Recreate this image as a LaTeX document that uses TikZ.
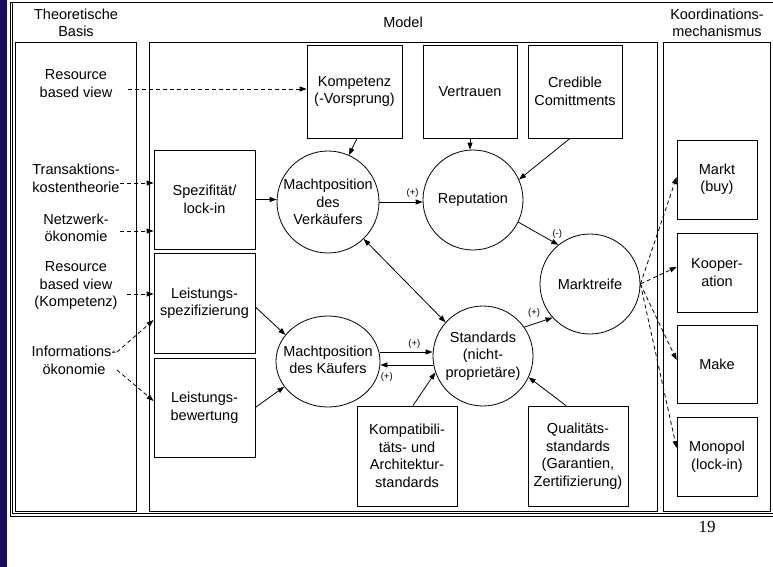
\documentclass[tikz,border=0pt]{standalone}
\usepackage{fontspec}
\setmainfont{Liberation Sans}
\newfontfamily\pagenumfont{Liberation Serif}
\usetikzlibrary{arrows.meta,shapes.geometric}
\definecolor{stripe}{RGB}{28,10,92}
\begin{document}
\begin{tikzpicture}[x=1pt,y=-1pt,
  every node/.style={font=\fontsize{14.5}{17.5}\selectfont, align=center, inner sep=0pt},
  frame/.style={draw, line width=0.8pt},
  box/.style={draw, line width=0.8pt, rectangle},
  circ/.style={draw, line width=0.8pt, circle, minimum size=#1},
  arr/.style={line width=0.8pt, -{Triangle[length=7pt,width=5pt]}},
  darr/.style={line width=0.8pt, {Triangle[length=7pt,width=5pt]}-{Triangle[length=7pt,width=5pt]}},
  dsh/.style={line width=0.8pt, dash pattern=on 4pt off 3pt, -{Triangle[length=7pt,width=5pt]}},
  lbl/.style={font=\fontsize{9.5}{11}\selectfont}
]
\useasboundingbox (0,0) rectangle (773,567);
\fill[stripe] (0,0) rectangle (6.5,567);
% outer frame
\draw[frame] (775,2) -- (10,2) -- (10,516) -- (775,516);
\draw[frame] (12.5,2) -- (12.5,513.5) -- (775,513.5);
% columns
\draw[frame] (15,42) rectangle (136,511);
\draw[frame] (149,42) rectangle (657,511);
\draw[frame] (663,42) rectangle (770,511);
% titles
\node (t1) at (76,23) {Theoretische\\Basis};
\node (t2) at (403,22) {Model};
\node (t3) at (717,23) {Koordinations-\\mechanismus};
% left texts
\node (l1) at (76,83.5) {Resource\\based view};
\node (l2) at (76,178.5) {Transaktions-\\kostentheorie};
\node (l3) at (76,228) {Netzwerk-\\ökonomie};
\node (l4) at (76,286) {Resource\\based view\\(Kompetenz)};
\node (l5) at (74,360.5) {Informations-\\ökonomie};
% model boxes
\node[box, minimum width=95pt, minimum height=93pt] (komp) at (354.5,91.5) {Kompetenz\\(-Vorsprung)};
\node[box, minimum width=94pt, minimum height=93pt] (vert) at (470,91.5) {Vertrauen};
\node[box, minimum width=94pt, minimum height=93pt] (cred) at (575,91.5) {Credible\\Comittments};
\node[box, minimum width=101pt, minimum height=99pt] (spez) at (204.5,199.5) {Spezifität/\\lock-in};
\node[box, minimum width=101pt, minimum height=100pt] (lspez) at (204.5,303) {Leistungs-\\spezifizierung};
\node[box, minimum width=101pt, minimum height=99pt] (lbew) at (204.5,407.5) {Leistungs-\\bewertung};
\node[box, minimum width=100pt, minimum height=100pt] (kompat) at (407,456) {Kompatibili-\\täts- und\\Architektur-\\standards};
\node[box, minimum width=100pt, minimum height=100pt] (qual) at (578,456) {Qualitäts-\\standards\\(Garantien,\\Zertifizierung)};
% circles
\node[circ=102pt] (verk) at (328,202) {};
\node (verkT) at (verk.center) {Machtposition\\des\\Verkäufers};
\node[circ=100pt] (rep) at (473,200) {Reputation};
\node[circ=100pt] (mreife) at (590,284) {Marktreife};
\node[circ=100pt] (std) at (483,356) {Standards\\(nicht-\\proprietäre)};
\node[draw, line width=0.8pt, ellipse, minimum width=104pt, minimum height=91pt] (kauf) at (328,361.5) {};
\node (kaufT) at ([yshift=1.5pt]kauf.center) {Machtposition\\des Käufers};
% koordination boxes
\node[box, minimum width=80pt, minimum height=79pt] (markt) at (717,179.5) {Markt\\(buy)};
\node[box, minimum width=80pt, minimum height=79pt] (koop) at (717,272.5) {Kooper-\\ation};
\node[box, minimum width=80pt, minimum height=78pt] (make) at (717,364) {Make};
\node[box, minimum width=80pt, minimum height=79pt] (mono) at (717,456.5) {Monopol\\(lock-in)};
% dashed from theory
\coordinate (s1) at (128,89);
\coordinate (s2) at (120,183);
\coordinate (s3) at (120,231);
\coordinate (s4) at (127,294);
\coordinate (s5) at (117,352);
\coordinate (s6) at (117,370);
\draw[dsh] (s1) -- (s1 -| komp.west);
\draw[dsh] (s2) -- (s2 -| spez.west);
\draw[dsh] (s3) -- (s3 -| spez.west);
\draw[dsh] (s4) -- (s4 -| lspez.west);
\draw[dsh] (s5) -- ([yshift=-17pt]lspez.west);
\draw[dsh] (s6) -- ([yshift=6.5pt]lbew.west);
% model arrows
\draw[arr] ([xshift=2.5pt]komp.south) -- (verk.66);
\draw[arr] (vert.south) -- (vert.south |- rep.north);
\draw[arr] ([xshift=-5pt]cred.south) -- (rep.24);
\draw[arr] (spez.east) -- (spez.east -| verk.west);
\draw[arr] (verk.east) -- (verk.east -| rep.west) node[lbl, pos=0.77, above=4pt] {(+)};
\draw[arr] (rep.-26) -- (mreife.129) node[lbl, pos=0.85, above=3pt, xshift=5pt] {(-)};
\draw[darr] (verk.-46) -- (std.138);
\draw[arr] ([yshift=-4pt]lspez.east) -- (kauf.148);
\draw[arr] (lbew.east) -- (kauf.210);
\draw[arr] ([yshift=9.5pt]kauf.east) -- ([yshift=9.5pt]kauf.east -| std.west) node[lbl, pos=0.65, above=3pt] {(+)};
\draw[arr] ([yshift=-9pt]std.west) -- ([yshift=-9pt]std.west -| kauf.east) node[lbl, pos=1, anchor=north west, yshift=-7pt] {(+)};
\draw[arr] (std.35) -- (mreife.222) node[lbl, pos=0.35, above=6pt] {(+)};
\draw[arr] ([xshift=6pt]kompat.north) -- (std.199);
\draw[arr] ([xshift=-12pt]qual.north) -- (std.-25);
% marktreife to koordination
\draw[dsh] (mreife.east) -- ([yshift=2.5pt]markt.west);
\draw[dsh] (mreife.east) -- ([yshift=5.5pt]koop.west);
\draw[dsh] (mreife.east) -- ([yshift=4pt]make.west);
\draw[dsh] (mreife.east) -- ([yshift=8.5pt]mono.west);
% page number
\node[font=\pagenumfont\fontsize{17}{19}\selectfont] (pg) at (707,527) {19};
\end{tikzpicture}
\end{document}
